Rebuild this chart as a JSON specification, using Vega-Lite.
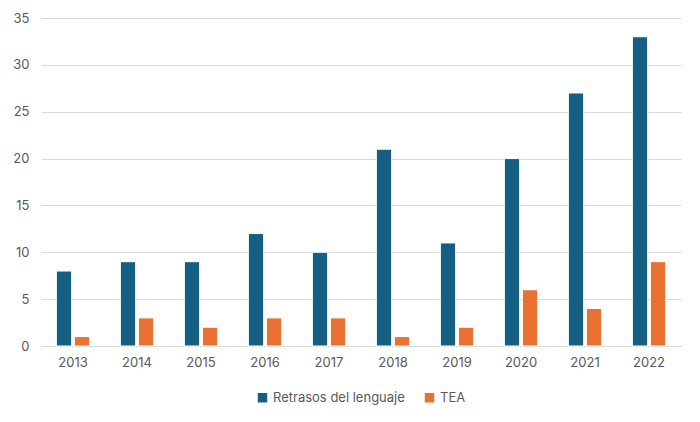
{
  "$schema": "https://vega.github.io/schema/vega-lite/v6.json",
  "width": 700,
  "height": 422,
  "autosize": {"type": "fit", "contains": "padding"},
  "padding": {"left": 12, "right": 19, "top": 12, "bottom": 17},
  "background": "white",
  "data": {
    "values": [
      {"year": "2013", "serie": "Retrasos del lenguaje", "valor": 8},
      {"year": "2013", "serie": "TEA", "valor": 1},
      {"year": "2014", "serie": "Retrasos del lenguaje", "valor": 9},
      {"year": "2014", "serie": "TEA", "valor": 3},
      {"year": "2015", "serie": "Retrasos del lenguaje", "valor": 9},
      {"year": "2015", "serie": "TEA", "valor": 2},
      {"year": "2016", "serie": "Retrasos del lenguaje", "valor": 12},
      {"year": "2016", "serie": "TEA", "valor": 3},
      {"year": "2017", "serie": "Retrasos del lenguaje", "valor": 10},
      {"year": "2017", "serie": "TEA", "valor": 3},
      {"year": "2018", "serie": "Retrasos del lenguaje", "valor": 21},
      {"year": "2018", "serie": "TEA", "valor": 1},
      {"year": "2019", "serie": "Retrasos del lenguaje", "valor": 11},
      {"year": "2019", "serie": "TEA", "valor": 2},
      {"year": "2020", "serie": "Retrasos del lenguaje", "valor": 20},
      {"year": "2020", "serie": "TEA", "valor": 6},
      {"year": "2021", "serie": "Retrasos del lenguaje", "valor": 27},
      {"year": "2021", "serie": "TEA", "valor": 4},
      {"year": "2022", "serie": "Retrasos del lenguaje", "valor": 33},
      {"year": "2022", "serie": "TEA", "valor": 9}
    ]
  },
  "mark": {"type": "bar", "stroke": "white", "strokeWidth": 1},
  "encoding": {
    "x": {
      "field": "year", "type": "nominal",
      "scale": {"paddingInner": 0.48, "paddingOuter": 0.24},
      "axis": {"title": null, "labelAngle": 0, "domain": true, "domainColor": "#d9d9d9", "ticks": false, "labelPadding": 10, "labelFont": "Inter", "labelFontSize": 13, "labelColor": "#595959"}
    },
    "xOffset": {"field": "serie", "type": "nominal", "scale": {"paddingInner": 0.15}},
    "y": {
      "field": "valor", "type": "quantitative",
      "scale": {"domain": [0, 35]},
      "axis": {"title": null, "values": [0, 5, 10, 15, 20, 25, 30, 35], "domain": false, "ticks": false, "gridColor": "#d9d9d9", "labelPadding": 12, "labelFont": "Inter", "labelFontSize": 13, "labelColor": "#595959"}
    },
    "color": {
      "field": "serie", "type": "nominal",
      "scale": {"domain": ["Retrasos del lenguaje", "TEA"], "range": ["#156082", "#E97132"]},
      "legend": {"title": null, "orient": "bottom", "direction": "horizontal", "symbolType": "square", "symbolSize": 90, "symbolStrokeWidth": 0, "labelFont": "Inter", "labelFontSize": 13, "labelColor": "#595959", "columnPadding": 18, "offset": 22}
    }
  },
  "config": {"view": {"stroke": null}, "legend": {"layout": {"bottom": {"anchor": "middle"}}}}
}
